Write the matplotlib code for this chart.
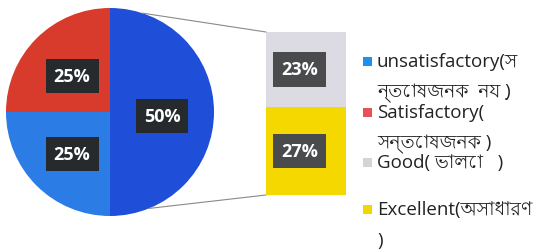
import matplotlib
matplotlib.use("Agg")
import matplotlib.pyplot as plt
from matplotlib import font_manager as fm
from matplotlib.patches import Rectangle, ConnectionPatch
import numpy as np

# ---- data ----
pie_labels = ["unsatisfactory", "Satisfactory", "Other"]
pie_values = [50, 25, 25]
pie_texts = ["50%", "25%", "25%"]
bar_labels = ["Excellent", "Good"]
bar_values = [27, 23]
bar_texts = ["27%", "23%"]
legend_labels = ["unsatisfactory(স\nন্তোষজনক  নয় )",
                 "Satisfactory(\nসন্তোষজনক )",
                 "Good( ভালো   )",
                 "Excellent(অসাধারণ\n)"]

pie_colors = ["#1f4fd8", "#d83a2b", "#2b7ce4"]
bar_colors = ["#f4d800", "#dcdbe3"]
legend_colors = ["#1e90f0", "#e8505a", "#d4d4d8", "#f2d600"]

beng = [f.name for f in fm.fontManager.ttflist
        if 'bengali' in f.name.lower() or 'beng' in f.fname.lower()]
family = ['Open Sans'] + beng[:1] + ['DejaVu Sans']
plt.rcParams['font.family'] = family

W, H = 540, 253
fig = plt.figure(figsize=(W / 100, H / 100), dpi=100)
fig.patch.set_facecolor("white")

# main axes in pixel coordinates (y up)
ax = fig.add_axes([0, 0, 1, 1])
ax.set_xlim(0, W)
ax.set_ylim(0, H)
ax.axis("off")

cx, cy, r = 110, H - 113, 104
wedges, _ = ax.pie(pie_values, colors=pie_colors, startangle=-90, counterclock=True,
                   center=(cx, cy), radius=r, frame=True)
ax.set_xlim(0, W)
ax.set_ylim(0, H)
ax.set_aspect("auto")
ax.axis("off")

box = dict(boxstyle="square,pad=0.45", fc="#262a2c", ec="none")
pie_label_pos = [(162, H - 117), (72, H - 77), (72, H - 155)]
for (x, y), t in zip(pie_label_pos, pie_texts):
    ax.text(x, y, t, color="white", fontsize=13, fontweight="bold",
            ha="center", va="center", bbox=box, family=['Open Sans', 'DejaVu Sans'])

# bar axes
bx0, by0, bw, bh = 266, 33, 80, 163
bax = fig.add_axes([bx0 / W, 1 - (by0 + bh) / H, bw / W, bh / H])
bottom = 0
for v, c, t in zip(bar_values, bar_colors, bar_texts):
    bax.bar(0, v, width=1, bottom=bottom, color=c)
    bax.text(-0.08, bottom + v / 2, t, color="white", fontsize=13, fontweight="bold",
             ha="center", va="center", family=['Open Sans', 'DejaVu Sans'],
             bbox=dict(boxstyle="square,pad=0.45", fc="#4a4b4d", ec="none"))
    bottom += v
bax.set_xlim(-0.5, 0.5)
bax.set_ylim(0, sum(bar_values))
bax.axis("off")

# connector lines
a1, a2 = np.deg2rad(72), np.deg2rad(-68)
for ang, yb in [(a1, sum(bar_values)), (a2, 0)]:
    p = (cx + r * np.cos(ang), cy + r * np.sin(ang))
    con = ConnectionPatch(xyA=p, coordsA=ax.transData, xyB=(-0.5, yb), coordsB=bax.transData,
                          color="#8a8a8a", lw=0.8)
    fig.add_artist(con)

# legend (manual, marker aligned with first line)
leg_y = [62, 113, 163, 210]
for y, lab, c in zip(leg_y, legend_labels, legend_colors):
    ax.add_patch(Rectangle((363, H - y - 5), 9, 9, color=c, lw=0))
    ax.text(377, H - y + 9, lab, fontsize=13.5, color="#222222", ha="left", va="top",
            linespacing=1.9)

fig.savefig("out.png", dpi=100)
